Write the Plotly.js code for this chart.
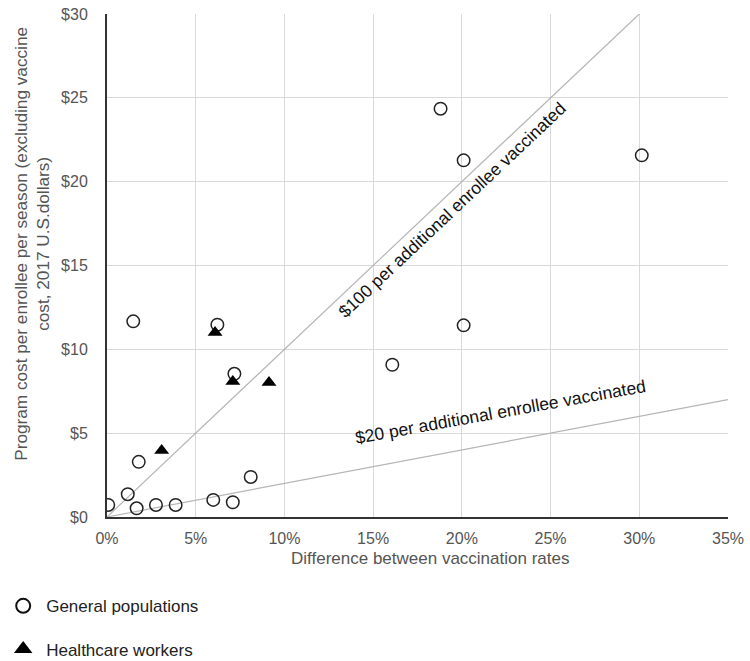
<!DOCTYPE html>
<html>
<head>
<meta charset="utf-8">
<script src="https://cdn.plot.ly/plotly-3.0.1.min.js"></script>
<style>html,body{margin:0;padding:0;background:#fff;}#chart{width:750px;height:661px;}</style>
</head>
<body>
<div id="chart"></div>
<script>
// General populations
const genX = [1.48, 6.22, 7.18, 16.08, 1.79, 8.1, 1.17, 0.07, 1.67, 2.76, 3.87, 5.99, 7.09, 18.8, 20.1, 30.14, 20.1];
const genY = [11.67, 11.47, 8.54, 9.08, 3.29, 2.39, 1.36, 0.72, 0.52, 0.72, 0.72, 1.02, 0.88, 24.35, 21.27, 21.57, 11.43];
// Healthcare workers
const hcwX = [6.09, 7.09, 9.13, 3.08];
const hcwY = [11.0, 8.08, 8.02, 3.96];
// Reference lines: cost per additional enrollee vaccinated
const line100X = [0, 30];
const line100Y = [0, 30];
const line20X = [0, 35];
const line20Y = [0, 7];
const xTicks = [0, 5, 10, 15, 20, 25, 30, 35];
const xTickText = ['0%', '5%', '10%', '15%', '20%', '25%', '30%', '35%'];
const yTicks = [0, 5, 10, 15, 20, 25, 30];
const yTickText = ['$0', '$5', '$10', '$15', '$20', '$25', '$30'];
const xTitle = 'Difference between vaccination rates';
const yTitle = 'Program cost per enrollee per season (excluding vaccine<br>cost, 2017 U.S.dollars)';

const font = 'Liberation Sans, Arial, sans-serif';
const traces = [
  {x: line100X, y: line100Y, mode: 'lines', line: {color: '#b5b5b5', width: 1.2}, showlegend: false, hoverinfo: 'skip'},
  {x: line20X, y: line20Y, mode: 'lines', line: {color: '#b5b5b5', width: 1.2}, showlegend: false, hoverinfo: 'skip'},
  {x: genX, y: genY, mode: 'markers', name: 'General populations', legendgroup: 'g1', showlegend: false,
   marker: {symbol: 'circle-open', size: 12.5, color: '#222', line: {width: 1.5, color: '#222'}}},
  {x: hcwX, y: hcwY, mode: 'markers', name: 'Healthcare workers', legendgroup: 'g2', showlegend: false,
   marker: {symbol: 'triangle-up', size: 13, color: '#000'}},
  // legend entries (larger legend symbols, as in the original)
  {x: [null], y: [null], mode: 'markers', name: 'General populations', legendgroup: 'g1',
   marker: {symbol: 'circle-open', size: 14, color: '#111', line: {width: 2, color: '#111'}}},
  {x: [null], y: [null], mode: 'markers', name: 'Healthcare workers', legendgroup: 'g2',
   marker: {symbol: 'triangle-up', size: 17, color: '#000'}}
];

const layout = {
  width: 750, height: 661,
  margin: {l: 107, r: 22, t: 14, b: 144},
  paper_bgcolor: '#fff', plot_bgcolor: '#fff',
  font: {family: font, color: '#555', size: 16},
  showlegend: true,
  legend: {xref: 'paper', yref: 'container', x: -0.172, y: 0.11, xanchor: 'left', yanchor: 'top', orientation: 'v',
           traceorder: 'grouped', tracegroupgap: 18, itemwidth: 36, font: {size: 17, color: '#222', family: font},
           bgcolor: 'rgba(0,0,0,0)'},
  xaxis: {range: [0, 35], tickvals: xTicks, ticktext: xTickText, showgrid: true, gridcolor: '#d9d9d9', gridwidth: 1,
          zeroline: false, showline: true, linecolor: '#333', linewidth: 2, ticks: '', ticklen: 0,
          ticklabelstandoff: 6, automargin: false,
          tickfont: {size: 16, color: '#555'}},
  yaxis: {range: [0, 30], tickvals: yTicks, ticktext: yTickText, showgrid: true, gridcolor: '#d9d9d9', gridwidth: 1,
          zeroline: false, showline: true, linecolor: '#333', linewidth: 2, ticks: '', ticklen: 0,
          ticklabelstandoff: 14, automargin: false,
          tickfont: {size: 16, color: '#555'}},
  annotations: [
    {x: 19.45, y: 18.3, xref: 'x', yref: 'y', text: '$100 per additional enrollee vaccinated', showarrow: false,
     textangle: -43.3, font: {size: 17.5, color: '#111', family: font}},
    {x: 22.15, y: 6.27, xref: 'x', yref: 'y', text: '$20 per additional enrollee vaccinated', showarrow: false,
     textangle: -10.2, font: {size: 17.5, color: '#111', family: font}},
    {x: 0.52, y: -0.082, xref: 'paper', yref: 'paper', xanchor: 'center', yanchor: 'middle', text: xTitle, showarrow: false,
     font: {size: 17, color: '#555', family: font}},
    {x: -0.121, y: 0.543, xref: 'paper', yref: 'paper', xanchor: 'center', yanchor: 'middle', text: yTitle, showarrow: false,
     textangle: -90, font: {size: 17.2, color: '#555', family: font}}
  ]
};
Plotly.newPlot('chart', traces, layout, {displayModeBar: false, staticPlot: true});
</script>
</body>
</html>
